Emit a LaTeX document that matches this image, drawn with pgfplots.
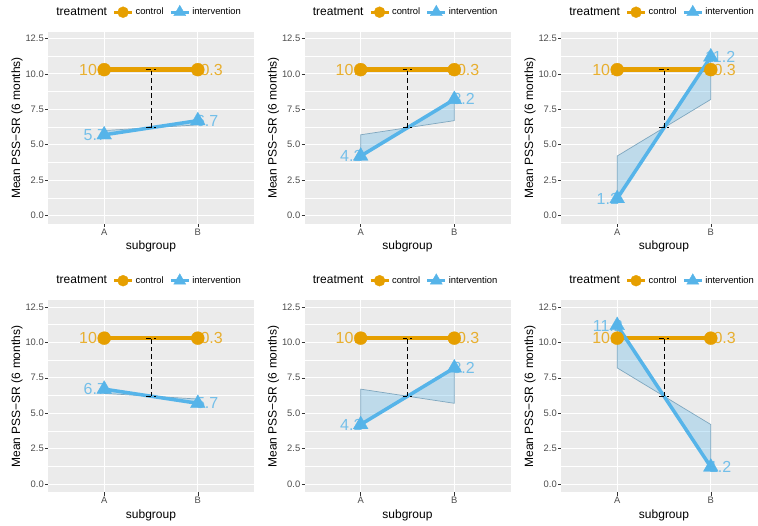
\documentclass[border=0pt]{standalone}
\usepackage{pgfplots}
\pgfplotsset{compat=1.18}
\usepackage{fontspec}
\setmainfont{Liberation Sans}
\definecolor{ctrl}{HTML}{E69F00}
\definecolor{intc}{HTML}{56B4E9}
\definecolor{panelbg}{HTML}{EBEBEB}
\definecolor{tickc}{HTML}{4D4D4D}
\definecolor{tickm}{HTML}{333333}
\definecolor{shadeedge}{HTML}{7FA7BF}

\pgfplotsset{
 panel/.style={
  scale only axis, width=206pt, height=192pt,
  xmin=0.4, xmax=2.6, ymin=-0.6, ymax=12.96,
  xtick={1,2}, xticklabels={A,B},
  ytick={0,2.5,5,7.5,10,12.5}, yticklabels={0.0,2.5,5.0,7.5,10.0,12.5},
  minor ytick={1.25,3.75,6.25,8.75,11.25},
  grid=both,
  major grid style={white, line width=1pt},
  minor grid style={white, line width=0.5pt},
  axis background/.style={fill=panelbg},
  axis line style={draw=none},
  tick align=outside, tick pos=left,
  major tick length=3pt, minor tick length=0pt,
  every tick/.style={tickm, line width=0.6pt},
  ticklabel style={font=\fontsize{9.4}{11}\selectfont, text=tickc},
  yticklabel style={inner sep=1pt},
  xticklabel style={inner sep=1.5pt},
  xlabel={subgroup}, ylabel={Mean PSS\textminus SR (6 months)},
  label style={font=\fontsize{12}{14}\selectfont},
  xlabel style={at={(axis description cs:0.5,-0.135)}, anchor=base},
  ylabel style={at={(axis description cs:-0.15,0.5)}, anchor=center},
  legend columns=-1,
  legend style={at={(axis description cs:0.03,1.104)}, anchor=west, draw=none, fill=none, inner sep=0pt,
    font=\fontsize{9.4}{11}\selectfont, /tikz/every even column/.append style={column sep=3.5pt}},
  legend image code/.code={\draw[mark repeat=2, mark phase=2, ##1] plot coordinates {(0pt,0pt)(9pt,0pt)(18pt,0pt)};},
 },
 lab/.style={forget plot, draw=none, mark=none, nodes near coords, point meta=explicit symbolic,
   every node near coord/.append style={anchor=center, font=\fontsize{16}{16}\selectfont, text opacity=0.8}},
}

\newcommand{\panel}[6]{%
\begin{axis}[panel, at={(#1pt,#2pt)}, anchor=south west]
\addlegendimage{empty legend}\addlegendentry{\fontsize{12}{14}\selectfont treatment}
\addlegendimage{ctrl, line width=3pt, mark=*, mark size=5.5pt, mark options={line width=0.3pt}}\addlegendentry{control}
\addlegendimage{intc, line width=3pt, mark=triangle*, mark size=7pt, mark options={line width=0.3pt}}\addlegendentry{intervention}
\addplot[forget plot, fill=intc, fill opacity=0.3, draw=shadeedge, line width=0.7pt]
  coordinates {(1,#3) (1,#5) (1.5,6.2) (2,#6) (2,#4) (1.5,6.2)} -- cycle;
\addplot[lab, every node near coord/.append style={text=ctrl}] coordinates {(0.9,10.3) [10.3] (2.1,10.3) [10.3]};
\addplot[lab, every node near coord/.append style={text=intc}] coordinates {(0.9,#3) [#3] (2.1,#4) [#4]};
\addplot[forget plot, ctrl, line width=4.5pt, mark=*, mark size=6.5pt, mark options={line width=0.3pt}] coordinates {(1,10.3) (2,10.3)};
\addplot[forget plot, intc, line width=3.5pt, mark=triangle*, mark size=8.5pt, mark options={line width=0.3pt}] coordinates {(1,#3) (2,#4)};
\addplot[forget plot, black, line width=0.9pt, dash pattern=on 4.5pt off 3pt] coordinates {(1.5,6.2) (1.5,10.3)};
\addplot[forget plot, black, line width=0.9pt, dash pattern=on 4.5pt off 3pt] coordinates {(1.45,10.3) (1.55,10.3)};
\addplot[forget plot, black, line width=0.9pt, dash pattern=on 4.5pt off 3pt] coordinates {(1.45,6.2) (1.55,6.2)};
\end{axis}}

\begin{document}
\begin{tikzpicture}[x=1pt,y=1pt]
\path[use as bounding box] (0,0) rectangle (758,525);
\panel{48}{301}{5.7}{6.7}{6.0}{6.4}
\panel{304.5}{301}{4.2}{8.2}{5.7}{6.7}
\panel{561}{301}{1.2}{11.2}{4.2}{8.2}
\panel{48}{32.5}{6.7}{5.7}{6.4}{6.0}
\panel{304.5}{32.5}{4.2}{8.2}{6.7}{5.7}
\panel{561}{32.5}{11.2}{1.2}{8.2}{4.2}
\end{tikzpicture}
\end{document}
